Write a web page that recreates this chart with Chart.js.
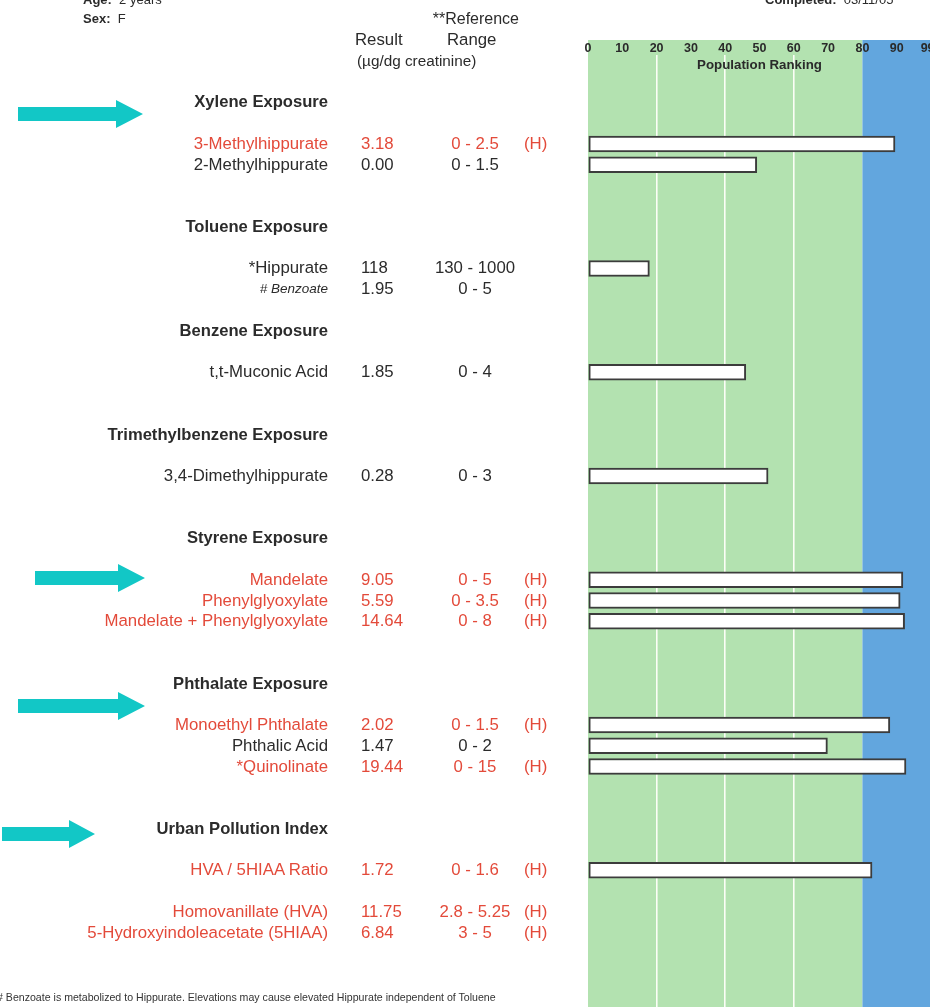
<!DOCTYPE html>
<html>
<head>
<meta charset="utf-8">
<script src="https://cdn.jsdelivr.net/npm/chart.js@4"></script>
<style>
  html, body { margin: 0; padding: 0; background: #ffffff; }
  body { width: 930px; height: 1007px; overflow: hidden; position: relative;
         font-family: "Liberation Sans", Arial, Helvetica, sans-serif; color: #2b2b2b; }
  #wrap { position: absolute; left: 0; top: 0; width: 930px; height: 1007px; }
  #overlay { position: absolute; left: 0; top: 0; width: 930px; height: 1007px; pointer-events: none; }
  .t { position: absolute; white-space: nowrap; transform: translateY(-50%); line-height: 1; }
  .row { font-size: 16.8px; }
  .hdr { font-size: 16.6px; font-weight: bold; }
  .red { color: #e34a3a; }
  svg.arrows { position: absolute; left: 0; top: 0; }
</style>
</head>
<body>
<div id="wrap"><canvas id="c"></canvas></div>
<div id="overlay"></div>
<script>
// ---------------- data ----------------
const sections = ['Xylene Exposure', 'Toluene Exposure', 'Benzene Exposure',
  'Trimethylbenzene Exposure', 'Styrene Exposure', 'Phthalate Exposure', 'Urban Pollution Index'];
const analytes = ['3-Methylhippurate', '2-Methylhippurate', '*Hippurate', '# Benzoate',
  't,t-Muconic Acid', '3,4-Dimethylhippurate', 'Mandelate', 'Phenylglyoxylate',
  'Mandelate + Phenylglyoxylate', 'Monoethyl Phthalate', 'Phthalic Acid', '*Quinolinate',
  'HVA / 5HIAA Ratio', 'Homovanillate (HVA)', '5-Hydroxyindoleacetate (5HIAA)'];
const results = ['3.18', '0.00', '118', '1.95', '1.85', '0.28', '9.05', '5.59', '14.64',
  '2.02', '1.47', '19.44', '1.72', '11.75', '6.84'];
const refRanges = ['0 - 2.5', '0 - 1.5', '130 - 1000', '0 - 5', '0 - 4', '0 - 3', '0 - 5',
  '0 - 3.5', '0 - 8', '0 - 1.5', '0 - 2', '0 - 15', '0 - 1.6', '2.8 - 5.25', '3 - 5'];
const flags = ['H', '', '', '', '', '', 'H', 'H', 'H', 'H', '', 'H', 'H', 'H', 'H'];
const ranking = [89.5, 49.2, 17.9, null, 46, 52.5, 91.8, 91, 92.3, 88, 69.8, 92.7, 82.8, null, null];
const rankTicks = [0, 10, 20, 30, 40, 50, 60, 70, 80, 90, 99];
const highBand = 80;

// ---------------- layout (row slots on the report) ----------------
const sectionRow = [-2, 4, 9, 14, 19, 26, 33];
const analyteRow = [0, 1, 6, 7, 11, 16, 21, 22, 23, 28, 29, 30, 35, 37, 38];

const barPoints = [];
ranking.forEach((v, i) => { if (v !== null) barPoints.push({ x: v, y: analyteRow[i] }); });

const bgPlugin = {
  id: 'bands',
  beforeDraw(chart) {
    const { ctx, chartArea, scales } = chart;
    const x = scales.x;
    const top = chartArea.top - 15;
    const bottom = chart.height;
    const x0 = x.getPixelForValue(0), x80 = x.getPixelForValue(highBand);
    ctx.save();
    ctx.fillStyle = '#b3e2b0';
    ctx.fillRect(x0, top, x80 - x0, bottom - top);
    ctx.fillStyle = '#62a6de';
    ctx.fillRect(x80, top, chartArea.right - x80 + 2, bottom - top);
    ctx.restore();
  }
};

let built = false;
const overlayPlugin = {
  id: 'overlayText',
  afterRender(chart) {
    if (built) return;
    built = true;
    const ys = chart.scales.y, xs = chart.scales.x;
    const ov = document.getElementById('overlay');
    const add = (html, cls, y, style) => {
      const d = document.createElement('div');
      d.className = 't ' + cls;
      d.innerHTML = html;
      d.style.top = y + 'px';
      Object.assign(d.style, style || {});
      ov.appendChild(d);
      return d;
    };
    const Y = r => ys.getPixelForValue(r);
    // page header
    add('<b>Age:</b>&nbsp; 2 years', '', Y(-7), { left: '83px', fontSize: '13px' });
    add('<b>Sex:</b>&nbsp; F', '', Y(-6) - 1, { left: '83px', fontSize: '13px' });
    add('<b>Completed:</b>&nbsp; 03/11/05', '', Y(-7), { left: '765px', fontSize: '13px' });
    add('**Reference', 'row', Y(-6), { left: '319px', width: '200px', textAlign: 'right', fontSize: '16px' });
    add('Result', 'row', Y(-5), { left: '355px' });
    add('Range', 'row', Y(-5), { left: '447px' });
    add('(\u00b5g/dg creatinine)', 'row', Y(-4), { left: '357px', fontSize: '15.3px' });
    add('Population Ranking', '', 65, { left: (xs.getPixelForValue(50) - 100) + 'px', width: '200px',
      textAlign: 'center', fontSize: '13.3px', fontWeight: 'bold', color: '#2a2a2a' });
    // section headers
    sections.forEach((s, i) => {
      add(s, 'hdr', Y(sectionRow[i]), { left: '0px', width: '328px', textAlign: 'right' });
    });
    // analyte rows
    analytes.forEach((a, i) => {
      const y = Y(analyteRow[i]);
      const cls = 'row' + (flags[i] ? ' red' : '');
      let extra = {};
      if (a.startsWith('# ')) extra = { fontStyle: 'italic', fontSize: '13.5px' };
      add(a, cls, y, Object.assign({ left: '0px', width: '328px', textAlign: 'right' }, extra));
      add(results[i], cls, y, { left: '361px' });
      add(refRanges[i], cls, y, { left: '375px', width: '200px', textAlign: 'center' });
      if (flags[i]) add('(' + flags[i] + ')', cls, y, { left: '524px' });
    });
    // footnote
    add('# Benzoate is metabolized to Hippurate. Elevations may cause elevated Hippurate independent of Toluene',
      '', 997, { left: '-3px', fontSize: '10.6px', color: '#333' });
  }
};

new Chart(document.getElementById('c'), {
  type: 'bar',
  data: {
    datasets: [{
      data: barPoints,
      backgroundColor: '#ffffff',
      borderColor: '#3c3c3c',
      borderWidth: 2,
      borderSkipped: false,
      barThickness: 16
    }]
  },
  options: {
    indexAxis: 'y',
    responsive: true,
    maintainAspectRatio: false,
    animation: false,
    events: [],
    layout: { padding: { left: 588, right: 0, top: 42.5, bottom: 0 } },
    plugins: { legend: { display: false }, tooltip: { enabled: false }, title: { display: false } },
    scales: {
      x: {
        type: 'linear',
        position: 'top',
        min: 0,
        max: 99.7,
        offset: false,
        afterBuildTicks: s => { s.ticks = rankTicks.map(v => ({ value: v })); },
        afterFit: s => { s.paddingLeft = 0; s.paddingRight = 0; },
        ticks: {
          autoSkip: false,
          maxRotation: 0,
          padding: 0,
          color: '#2a2a2a',
          font: { family: '"Liberation Sans", Arial, sans-serif', size: 12.5, weight: 'bold', lineHeight: 1 },
          callback: v => String(v)
        },
        grid: {
          offset: false,
          drawTicks: false,
          lineWidth: 1.6,
          color: ctx => ([20, 40, 60].includes(ctx.tick && ctx.tick.value) ? 'rgba(255,255,250,0.95)' : 'rgba(0,0,0,0)')
        },
        border: { display: false }
      },
      y: {
        type: 'linear',
        reverse: true,
        offset: false,
        min: -4.289,
        max: 41.59,
        display: false,
        grid: { offset: false }
      }
    }
  },
  plugins: [bgPlugin, overlayPlugin]
});
</script>
<svg class="arrows" width="930" height="1007">
  <g fill="#12c7c6">
    <polygon points="18,107 116,107 116,100 143,114 116,128 116,121 18,121"/>
    <polygon points="35,571 118,571 118,564 145,578 118,592 118,585 35,585"/>
    <polygon points="18,699 118,699 118,692 145,706 118,720 118,713 18,713"/>
    <polygon points="2,827 69,827 69,820 95,834 69,848 69,841 2,841"/>
  </g>
</svg>
</body>
</html>
